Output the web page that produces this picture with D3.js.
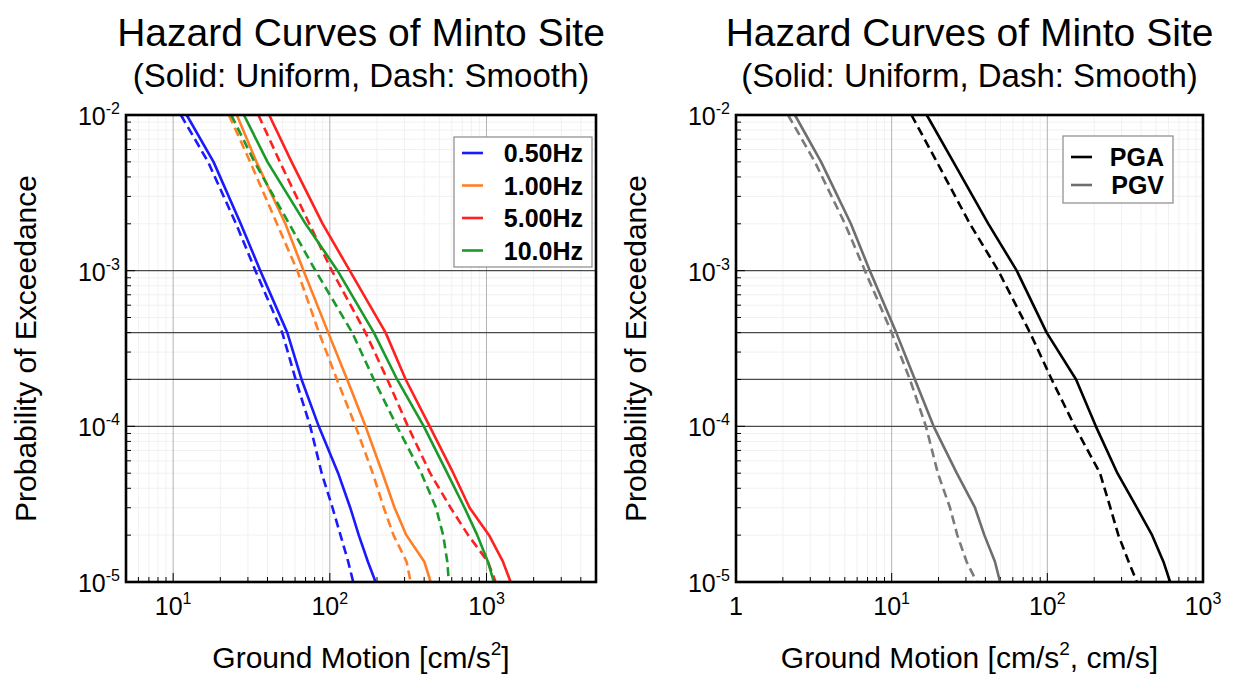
<!DOCTYPE html>
<html>
<head>
<meta charset="utf-8">
<script src="https://cdn.jsdelivr.net/npm/d3@7"></script>
<style>
body{margin:0;background:#fff;}
text{font-family:"Liberation Sans",Arial,sans-serif;fill:#000;}
</style>
</head>
<body>
<div id="chart"></div>
<script>

var svgWidth=1234;
var svgHeight=679;

// probability levels (shared by every curve)
var probs=[1e-2,5e-3,2e-3,1e-3,4e-4,2e-4,1e-4,5e-5,3e-5,2e-5,1.35e-5,1e-5];

// left panel: spectral accelerations [cm/s2]
var freqLabels=["0.50Hz","1.00Hz","5.00Hz","10.0Hz"];
var freqColors=["#1a1aff","#ff7f27","#ff2020","#1a9a2a"];
var uni050=[12.2,18.1,27,36,53.5,66,85,113,135,153,175,196];
var smo050=[11.2,16.7,25.2,33.5,49.7,60.5,75,88.7,104,117,131,141];
var uni100=[25.5,34,52,68,97.7,129,169,217,259,308,401,440];
var smo100=[22.7,31,46,62,85.3,111,146,188,221,255,309,328];
var uni500=[41,57,90,134,227,305,434,614,780,1038,1274,1426];
var smo500=[35,48,74,103,169,233,315,437,590,764,1021,1143];
var uni1000=[28.3,40,70,112,191,269,398,562,724,873,1021,1114];
var smo1000=[23.5,33,55,81,139,191,268,384,476,529,562,575];

// right panel: PGA [cm/s2], PGV [cm/s]
var pgmLabels=["PGA","PGV"];
var pgmColors=["#000000","#6e6e6e"];
var uniPGA=[16.8,24.9,41.8,63.6,99,153,205,282,376,471,557,615];
var smoPGA=[13.4,19.5,31.8,48.4,77.4,106.7,150,218,254,286,333,376];
var uniPGV=[2.39,3.52,5.47,7.24,10.7,14.1,18.6,26.2,34.3,39.4,46.1,49.7];
var smoPGV=[2.16,3.21,5.01,6.73,10.0,13.1,16.6,19.8,23.7,26.4,30.3,35.2];

// return period lines (1000, 2500, 5000, 10000 yr)
var refProbs=[1e-3,4e-4,2e-4,1e-4];
var yTicks=[1e-2,1e-3,1e-4,1e-5];
var leftXTicks=[10,100,1000];
var rightXTicks=[1,10,100,1000];

var svg=d3.select("#chart")
	.append("svg")
	.attr("width",svgWidth)
	.attr("height",svgHeight);

function drawPanel(p){
	var top=115, bottom=582;
	var x=d3.scaleLog().domain(p.xDomain).range([p.left,p.right]);
	var y=d3.scaleLog().domain([1e-5,1e-2]).range([bottom,top]);
	var g=svg.append("g");

	var isDecade=function(v){ return Math.abs(Math.log10(v)-Math.round(Math.log10(v)))<1e-6; };
	var xMinor=x.ticks().filter(function(v){ return v>p.xDomain[0] && v<p.xDomain[1]; });
	var yMinor=y.ticks().filter(function(v){ return v>1e-5 && v<1e-2; });

	// faint minor grid
	g.selectAll(".mgx").data(xMinor.filter(function(v){ return !isDecade(v); }))
		.enter().append("line")
		.attr("x1",d=>x(d)).attr("x2",d=>x(d))
		.attr("y1",top).attr("y2",bottom)
		.attr("stroke","#f1f1f1").attr("stroke-width",1);
	g.selectAll(".mgy").data(yMinor.filter(function(v){ return !isDecade(v); }))
		.enter().append("line")
		.attr("x1",p.left).attr("x2",p.right)
		.attr("y1",d=>y(d)).attr("y2",d=>y(d))
		.attr("stroke","#f1f1f1").attr("stroke-width",1);

	// decade grid
	g.selectAll(".gx").data(xMinor.filter(isDecade))
		.enter().append("line")
		.attr("x1",d=>x(d)).attr("x2",d=>x(d))
		.attr("y1",top).attr("y2",bottom)
		.attr("stroke","#b4b4b4").attr("stroke-width",1);
	g.selectAll(".ref").data(refProbs)
		.enter().append("line")
		.attr("x1",p.left).attr("x2",p.right)
		.attr("y1",d=>y(d)).attr("y2",d=>y(d))
		.attr("stroke","#4a4a4a").attr("stroke-width",1.2);

	// inward minor ticks
	g.selectAll(".tx").data(xMinor)
		.enter().append("line")
		.attr("x1",d=>x(d)).attr("x2",d=>x(d))
		.attr("y1",bottom).attr("y2",d=>bottom-(isDecade(d)?9:5))
		.attr("stroke","#000").attr("stroke-width",1);
	g.selectAll(".ty").data(yMinor)
		.enter().append("line")
		.attr("x1",p.left).attr("x2",d=>p.left+(isDecade(d)?9:5))
		.attr("y1",d=>y(d)).attr("y2",d=>y(d))
		.attr("stroke","#000").attr("stroke-width",1);

	// curves
	var line=d3.line()
		.x(d=>x(d[0]))
		.y(d=>y(d[1]));
	p.series.forEach(function(s){
		g.append("path")
			.datum(s.values.map(function(v,i){ return [v,probs[i]]; }))
			.attr("d",line)
			.attr("fill","none")
			.attr("stroke",s.color)
			.attr("stroke-width",2.6)
			.attr("stroke-linejoin","round")
			.attr("stroke-dasharray",s.dash?"9,5":null);
	});

	// frame
	g.append("rect")
		.attr("x",p.left).attr("y",top)
		.attr("width",p.right-p.left).attr("height",bottom-top)
		.attr("fill","none").attr("stroke","#000").attr("stroke-width",2.6);

	// tick labels
	p.xTicks.forEach(function(v){
		var t=g.append("text")
			.attr("x",x(v)).attr("y",615)
			.attr("text-anchor","middle")
			.attr("font-size",25);
		var e=Math.round(Math.log10(v));
		if(e===0){ t.text("1"); }
		else{
			t.append("tspan").text("10");
			t.append("tspan").attr("dy",-11).attr("font-size",16).text(e);
		}
	});
	yTicks.forEach(function(v){
		var t=g.append("text")
			.attr("x",p.left-6).attr("y",y(v)+10)
			.attr("text-anchor","end")
			.attr("font-size",25);
		t.append("tspan").text("10");
		t.append("tspan").attr("dy",-11).attr("font-size",16).text(Math.round(Math.log10(v)));
	});

	// titles
	var cx=(p.left+p.right)/2;
	g.append("text")
		.attr("x",cx).attr("y",46)
		.attr("text-anchor","middle")
		.attr("font-size",39)
		.text("Hazard Curves of Minto Site");
	g.append("text")
		.attr("x",cx).attr("y",87)
		.attr("text-anchor","middle")
		.attr("font-size",33)
		.text("(Solid: Uniform, Dash: Smooth)");

	// axis labels
	var xl=g.append("text")
		.attr("x",cx).attr("y",668)
		.attr("text-anchor","middle")
		.attr("font-size",30);
	p.xLabel.forEach(function(part){
		var ts=xl.append("tspan").text(part.t);
		if(part.sup) ts.attr("dy",-13).attr("font-size",19);
		if(part.down) ts.attr("dy",13);
	});
	g.append("text")
		.attr("transform",`translate(${p.left-90}, ${(top+bottom)/2}) rotate(-90)`)
		.attr("text-anchor","middle")
		.attr("font-size",30)
		.text("Probability of Exceedance");

	// legend
	var lg=g.append("g")
		.attr("transform",`translate(${p.legend.x}, ${p.legend.y})`);
	lg.append("rect")
		.attr("width",p.legend.w).attr("height",p.legend.h)
		.attr("fill","#fff").attr("stroke","#8a8a8a").attr("stroke-width",1.2);
	p.legend.labels.forEach(function(lab,i){
		var yy=p.legend.first+i*p.legend.step;
		lg.append("line")
			.attr("x1",8).attr("x2",29)
			.attr("y1",yy).attr("y2",yy)
			.attr("stroke",p.legend.colors[i]).attr("stroke-width",2.6);
		lg.append("text")
			.attr("x",p.legend.w-9).attr("y",yy+9)
			.attr("text-anchor","end")
			.attr("font-size",25)
			.attr("font-weight","bold")
			.text(lab);
	});
}

drawPanel({
	left:126, right:596,
	xDomain:[5,5000],
	xTicks:leftXTicks,
	xLabel:[{t:"Ground Motion [cm/s"},{t:"2",sup:true},{t:"]",down:true}],
	series:[
		{values:uni050,color:freqColors[0]},{values:smo050,color:freqColors[0],dash:true},
		{values:uni100,color:freqColors[1]},{values:smo100,color:freqColors[1],dash:true},
		{values:uni500,color:freqColors[2]},{values:smo500,color:freqColors[2],dash:true},
		{values:uni1000,color:freqColors[3]},{values:smo1000,color:freqColors[3],dash:true}
	],
	legend:{x:454,y:137,w:138,h:130,first:16,step:32.5,labels:freqLabels,colors:freqColors}
});

drawPanel({
	left:736, right:1203,
	xDomain:[1,1000],
	xTicks:rightXTicks,
	xLabel:[{t:"Ground Motion [cm/s"},{t:"2",sup:true},{t:", cm/s]",down:true}],
	series:[
		{values:uniPGA,color:pgmColors[0]},{values:smoPGA,color:pgmColors[0],dash:true},
		{values:uniPGV,color:pgmColors[1]},{values:smoPGV,color:"#7a7a7a",dash:true}
	],
	legend:{x:1063,y:136,w:110,h:67,first:21,step:28,labels:pgmLabels,colors:pgmColors}
});

</script>
</body>
</html>
